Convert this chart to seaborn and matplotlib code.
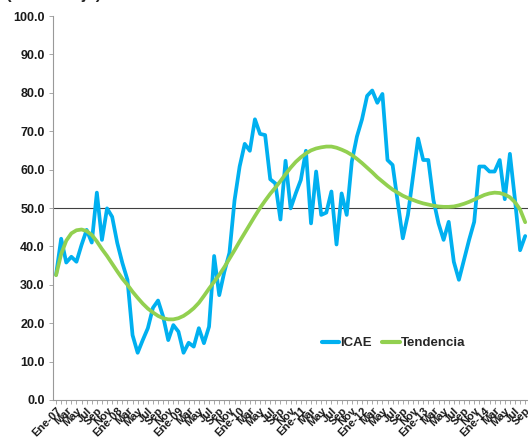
import numpy as np
import pandas as pd
import matplotlib
matplotlib.use("Agg")
import matplotlib.pyplot as plt
import seaborn as sns

months_es = ["Ene", "Feb", "Mar", "Abr", "May", "Jun", "Jul", "Ago", "Sep", "Oct", "Nov", "Dic"]
years = list(range(2007, 2015))
n_months = 93  # Ene-07 .. Sep-14

icae = [32.6, 42.0, 35.8, 37.3, 36.0, 40.4, 44.3, 41.0, 54.0, 41.7,
        49.9, 47.7, 40.9, 35.7, 31.3, 16.9, 12.3, 15.6, 18.7, 24.0,
        25.9, 21.7, 15.6, 19.5, 17.8, 12.3, 14.9, 13.9, 18.7, 14.8,
        19.1, 37.5, 27.3, 33.4, 38.3, 52.0, 60.8, 66.7, 64.9, 73.1,
        69.3, 69.0, 57.5, 56.4, 47.0, 62.3, 49.9, 53.8, 57.3, 64.9,
        46.0, 59.5, 48.2, 48.8, 54.3, 40.5, 53.8, 48.2, 62.1, 68.6,
        73.1, 79.2, 80.6, 77.4, 79.7, 62.5, 61.2, 51.6, 42.1, 48.2,
        58.2, 68.1, 62.5, 62.5, 52.1, 46.0, 41.7, 46.4, 36.0, 31.3,
        36.5, 41.7, 46.4, 60.8, 60.8, 59.5, 59.5, 62.5, 52.3, 64.1,
        52.1, 39.0, 42.7]

tendencia = [32.5, 38.0, 41.5, 43.4, 44.2, 44.4, 44.0, 43.0, 41.3, 39.3,
             37.5, 35.5, 33.5, 31.6, 30.0, 28.2, 26.6, 25.1, 23.8, 22.8,
             21.9, 21.3, 21.0, 21.0, 21.3, 21.9, 22.8, 23.9, 25.3, 27.1,
             29.0, 30.8, 32.6, 34.6, 36.8, 39.0, 41.3, 43.5, 45.7, 47.9,
             50.0, 51.9, 53.7, 55.3, 57.0, 58.8, 60.5, 62.0, 63.2, 64.2,
             65.0, 65.5, 65.8, 66.0, 66.0, 65.7, 65.2, 64.6, 63.8, 62.8,
             61.7, 60.5, 59.3, 58.0, 56.9, 55.8, 54.8, 54.0, 53.2, 52.6,
             52.1, 51.6, 51.2, 50.9, 50.6, 50.4, 50.3, 50.3, 50.4, 50.7,
             51.1, 51.6, 52.2, 52.8, 53.4, 53.8, 54.0, 53.9, 53.5, 52.8,
             51.5, 49.6, 46.3]

labels = []
for k in range(n_months):
    y = years[k // 12]
    m = k % 12
    if k % 2 == 1:
        labels.append("")
    elif m == 0:
        labels.append(f"Ene-{y % 100:02d}")
    else:
        labels.append(months_es[m])

df = pd.DataFrame({
    "idx": list(range(n_months)) * 2,
    "valor": icae + tendencia,
    "serie": ["ICAE"] * n_months + ["Tendencia"] * n_months,
})

sns.set_theme(style="white")
plt.rcParams["font.family"] = ["Liberation Sans", "DejaVu Sans"]

fig = plt.figure(figsize=(5.28, 4.41), dpi=100)
ax = fig.add_axes([53 / 528, 1 - 400 / 441, 1 - 53 / 528, (400 - 16) / 441])

ax.axhline(50, color="#404040", lw=0.8, zorder=1)
sns.lineplot(data=df, x="idx", y="valor", hue="serie",
             palette={"ICAE": "#00B0F0", "Tendencia": "#92D050"},
             linewidth=2.7, ax=ax, legend=True)

ax.set_xlim(-0.6, 92.55)
ax.set_ylim(0, 100)
ax.set_yticks(np.arange(0, 101, 10))
ax.set_yticklabels([f"{v:.1f}" for v in np.arange(0, 101, 10)],
                   fontsize=9, fontweight="bold", color="#1a1a1a")
ax.set_xticks(range(n_months))
ax.set_xticklabels(labels, rotation=45, ha="right", rotation_mode="anchor",
                   fontsize=8, fontweight="bold", color="#1a1a1a")
ax.tick_params(axis="x", length=3, width=0.6, color="#999999", pad=1, bottom=True)
ax.tick_params(axis="y", length=3, width=0.6, color="#999999", pad=3, left=True)
ax.set_xlabel("")
ax.set_ylabel("")
for s in ["top", "right"]:
    ax.spines[s].set_visible(False)
for s in ["left", "bottom"]:
    ax.spines[s].set_color("#999999")
    ax.spines[s].set_linewidth(0.8)

leg = ax.legend(loc="center", bbox_to_anchor=(0.717, 0.148), frameon=False,
                ncol=2, handlelength=1.3, handletextpad=0.1, columnspacing=0.8,
                prop={"weight": "bold", "size": 9.5})
for h in leg.get_lines():
    h.set_linewidth(3)

fig.text(5 / 528, 1.0 + 1 / 441, "(Porcentaje)", fontsize=12, fontweight="bold",
         va="baseline", ha="left")

fig.savefig("out.png", dpi=100)
